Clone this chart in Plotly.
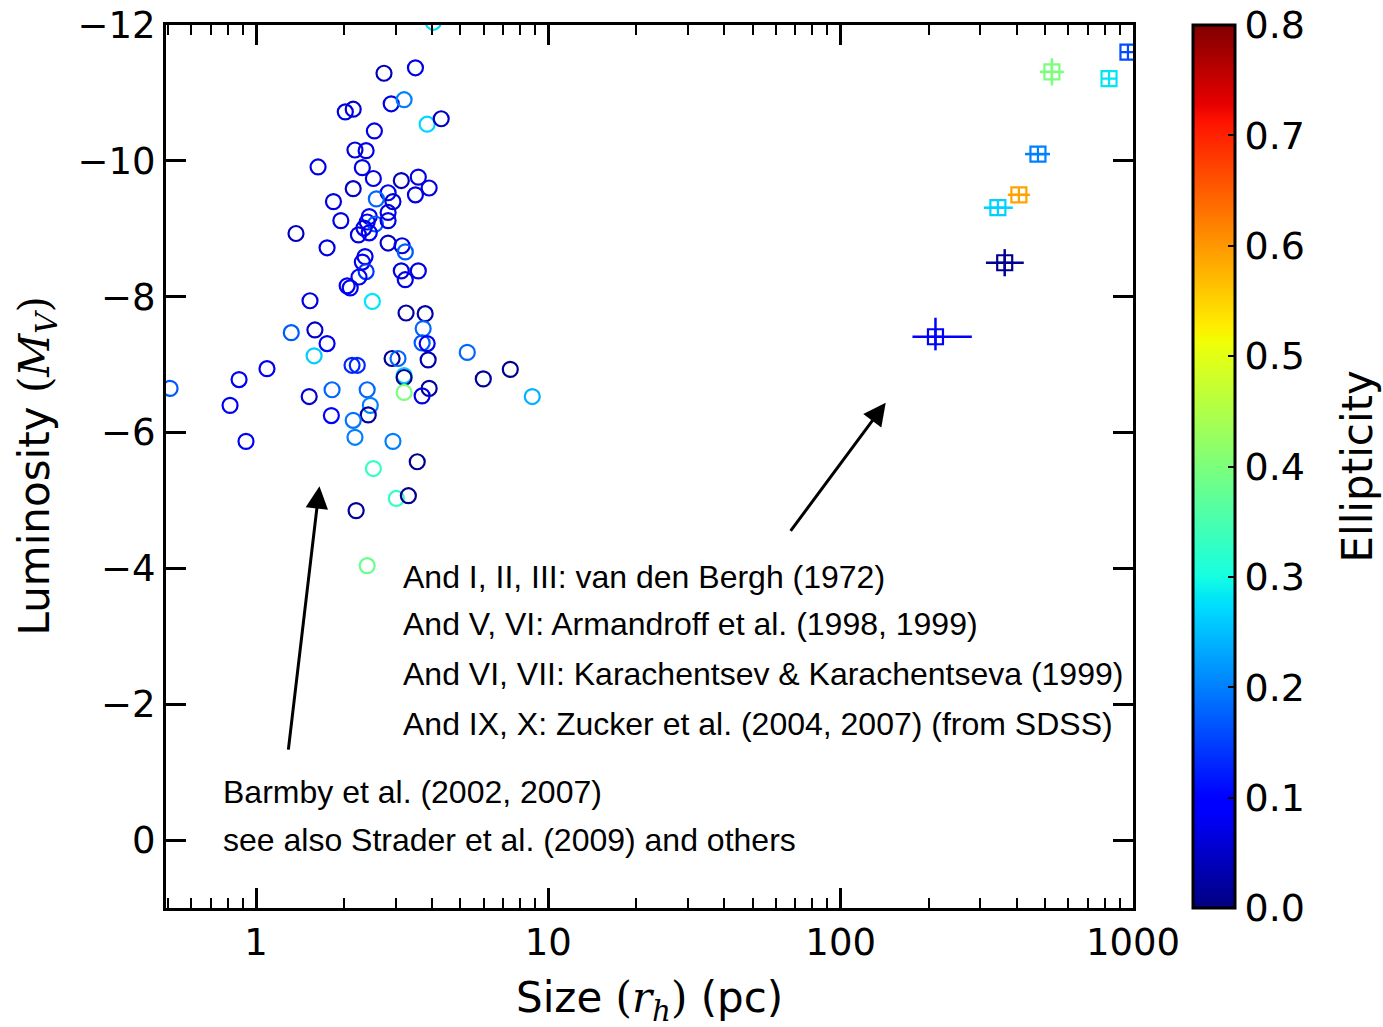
import numpy as np
import plotly.graph_objects as go

# ---------------- data ----------------
# Globular clusters (Barmby et al.)
gc_size = [2.74, 3.51, 2.90, 3.21, 2.02, 2.15, 3.85, 4.30, 2.54, 2.18,
           2.38, 1.63, 2.31, 2.52, 3.14, 3.59, 2.15, 3.91, 3.51, 2.83,
           2.58, 2.94, 1.84, 2.83, 2.44, 1.95, 2.40, 2.56, 2.83, 2.34,
           2.44, 2.24, 1.37, 2.83, 3.16, 3.24, 1.75, 2.36, 2.31, 2.38,
           2.25, 3.14, 3.59, 3.24, 2.05, 2.10, 1.53, 2.50, 4.04, 3.26,
           3.79, 3.73, 3.70, 3.85, 3.88, 5.28, 5.99, 7.41, 8.81, 2.92,
           3.06, 3.21, 3.21, 3.21, 3.91, 3.70, 2.40, 2.46, 2.42, 2.15,
           2.18, 2.94, 1.82, 1.52, 1.81, 1.58, 1.75, 1.59, 1.32, 1.09,
           0.875, 0.815, 0.924, 0.508, 2.13, 2.22, 2.52, 3.56, 3.02, 3.32,
           2.20, 2.40]
gc_mv = [-11.29, -11.37, -10.84, -10.90, -10.72, -10.76, -10.54, -10.62, -10.44, -10.16,
         -10.15, -9.91, -9.90, -9.74, -9.71, -9.76, -9.59, -9.60, -9.50, -9.53,
         -9.44, -9.40, -9.40, -9.24, -9.18, -9.12, -9.10, -9.07, -9.12, -9.01,
         -8.94, -8.91, -8.93, -8.79, -8.75, -8.66, -8.72, -8.59, -8.51, -8.37,
         -8.29, -8.38, -8.38, -8.25, -8.16, -8.13, -7.94, -7.93, -12.04, -7.76,
         -7.75, -7.53, -7.32, -7.31, -7.07, -7.18, -6.79, -6.93, -6.53, -7.09,
         -7.09, -6.84, -6.81, -6.59, -6.65, -6.54, -6.63, -6.40, -6.26, -6.18,
         -5.93, -5.87, -6.63, -6.53, -6.25, -7.13, -7.31, -7.51, -7.47, -6.94,
         -6.78, -6.40, -5.87, -6.65, -6.99, -6.99, -5.47, -5.57, -5.03, -5.07,
         -4.85, -4.04]
gc_ell = [0.04, 0.07, 0.07, 0.20, 0.07, 0.06, 0.27, 0.05, 0.07, 0.06,
          0.07, 0.07, 0.07, 0.07, 0.04, 0.07, 0.05, 0.07, 0.07, 0.08,
          0.18, 0.06, 0.07, 0.07, 0.08, 0.07, 0.08, 0.17, 0.07, 0.07,
          0.10, 0.07, 0.04, 0.05, 0.07, 0.17, 0.07, 0.08, 0.08, 0.14,
          0.08, 0.07, 0.07, 0.07, 0.08, 0.08, 0.07, 0.28, 0.27, 0.03,
          0.03, 0.18, 0.17, 0.08, 0.03, 0.18, 0.02, 0.01, 0.24, 0.02,
          0.18, 0.26, 0.01, 0.40, 0.02, 0.07, 0.18, 0.20, 0.02, 0.19,
          0.20, 0.20, 0.18, 0.06, 0.10, 0.26, 0.08, 0.05, 0.17, 0.08,
          0.08, 0.08, 0.08, 0.17, 0.13, 0.13, 0.33, 0.01, 0.33, 0.01,
          0.02, 0.38]

# Dwarf galaxies
dw_size = [211, 364, 345, 407, 473, 528, 828, 961]
dw_mv = [-7.41, -8.50, -9.31, -9.50, -10.10, -11.31, -11.21, -11.60]
dw_ell = [0.10, 0.01, 0.265, 0.59, 0.20, 0.40, 0.28, 0.16]
dw_size_err_minus = [35, 50, 36, 34, 46, 48, 0, 0]
dw_size_err_plus = [70, 59, 43, 37, 47, 52, 0, 0]
dw_mv_err_minus = [0.28, 0.20, 0.0, 0.0, 0.0, 0.20, 0.0, 0.0]
dw_mv_err_plus = [0.20, 0.20, 0.0, 0.0, 0.0, 0.20, 0.0, 0.0]

y_tickvals = [-12, -10, -8, -6, -4, -2, 0]
y_ticktext = ["\u221212", "\u221210", "\u22128", "\u22126", "\u22124", "\u22122", "0"]
x_tickvals = [1, 10, 100, 1000]
x_ticktext = ["1", "10", "100", "1000"]
cb_tickvals = [0.0, 0.1, 0.2, 0.3, 0.4, 0.5, 0.6, 0.7, 0.8]
cb_ticktext = ["0.0", "0.1", "0.2", "0.3", "0.4", "0.5", "0.6", "0.7", "0.8"]

ref_lines = ["And I, II, III: van den Bergh (1972)",
             "And V, VI: Armandroff et al. (1998, 1999)",
             "And VI, VII: Karachentsev & Karachentseva (1999)",
             "And IX, X: Zucker et al. (2004, 2007) (from SDSS)"]
gc_lines = ["Barmby et al. (2002, 2007)",
            "see also Strader et al. (2009) and others"]

CMIN, CMAX = 0.0, 0.8

# ---------------- matplotlib 'jet' colormap ----------------
def jet(v):
    r = np.interp(v, [0, 0.35, 0.66, 0.89, 1], [0, 0, 1, 1, 0.5])
    g = np.interp(v, [0, 0.125, 0.375, 0.64, 0.91, 1], [0, 0, 1, 1, 0, 0])
    b = np.interp(v, [0, 0.11, 0.34, 0.65, 1], [0.5, 1, 1, 0, 0])
    return "rgb(%d,%d,%d)" % (round(r * 255), round(g * 255), round(b * 255))

stops = [0, 0.11, 0.125, 0.34, 0.35, 0.375, 0.64, 0.65, 0.66, 0.89, 0.91, 1]
jet_scale = [[s, jet(s)] for s in stops]

fig = go.Figure()

fig.add_trace(go.Scatter(
    x=gc_size, y=gc_mv, mode="markers", showlegend=False,
    marker=dict(symbol="circle-open", size=15, color=gc_ell,
                colorscale=jet_scale, cmin=CMIN, cmax=CMAX,
                line=dict(width=2.2),
                colorbar=dict(
                    x=(1193 - 166) / 967, xanchor="left", xpad=0, ypad=0,
                    y=0.5, yanchor="middle", len=1, lenmode="fraction",
                    thickness=42, thicknessmode="pixels",
                    outlinewidth=3, outlinecolor="black",
                    tickvals=cb_tickvals, ticktext=cb_ticktext,
                    ticks="inside", ticklen=8, tickwidth=1.5, tickcolor="black",
                    tickfont=dict(family="DejaVu Sans", size=38, color="black"),
                ))))

for i in range(len(dw_size)):
    c = jet((dw_ell[i] - CMIN) / (CMAX - CMIN))
    fig.add_trace(go.Scatter(
        x=[dw_size[i]], y=[dw_mv[i]], mode="markers", showlegend=False,
        marker=dict(symbol="square-cross-open", size=15, color=c,
                    line=dict(width=2.2, color=c)),
        error_x=dict(type="data", symmetric=False, array=[dw_size_err_plus[i]],
                     arrayminus=[dw_size_err_minus[i]], color=c, thickness=2.5, width=0,
                     visible=dw_size_err_plus[i] > 0),
        error_y=dict(type="data", symmetric=False, array=[dw_mv_err_plus[i]],
                     arrayminus=[dw_mv_err_minus[i]], color=c, thickness=2.5, width=0,
                     visible=dw_mv_err_plus[i] > 0),
    ))

tickfont = dict(family="DejaVu Sans", size=37, color="black")
minor_vals = [m * 10 ** e for e in range(-1, 3) for m in range(2, 10) if m * 10 ** e > 0.49]

fig.update_xaxes(type="log", range=[-0.308, 3.0], tickvals=x_tickvals, ticktext=x_ticktext,
                 ticks="inside", ticklen=20, tickwidth=3, tickcolor="black",
                 showline=True, linewidth=3, linecolor="black", mirror="ticks",
                 showgrid=False, zeroline=False, tickfont=tickfont,
                 minor=dict(tickvals=minor_vals, ticks="inside", ticklen=10,
                            tickwidth=2, tickcolor="black", showgrid=False))
fig.update_yaxes(range=[1, -12], tickvals=y_tickvals, ticktext=y_ticktext,
                 ticks="inside", ticklen=20, tickwidth=3, tickcolor="black",
                 showline=True, linewidth=3, linecolor="black", mirror="ticks",
                 showgrid=False, zeroline=False, tickfont=tickfont)

annos = []
txtfont = dict(family="Liberation Sans, Arial", size=32, color="black")
for t, yy in zip(ref_lines, [-3.87, -3.18, -2.44, -1.71]):
    annos.append(dict(x=0.4966, y=yy, xref="x", yref="y", text=t, showarrow=False,
                      xanchor="left", yanchor="middle", font=txtfont))
for t, yy in zip(gc_lines, [-0.71, 0.0]):
    annos.append(dict(x=-0.120, y=yy, xref="x", yref="y", text=t, showarrow=False,
                      xanchor="left", yanchor="middle", font=txtfont))
# arrows
annos.append(dict(x=0.217, y=-5.21, ax=0.110, ay=-1.31, xref="x", yref="y",
                  axref="x", ayref="y", text="", showarrow=True, arrowhead=2,
                  arrowsize=1.5, arrowwidth=3, arrowcolor="black"))
annos.append(dict(x=2.154, y=-6.44, ax=1.825, ay=-4.53, xref="x", yref="y",
                  axref="x", ayref="y", text="", showarrow=True, arrowhead=2,
                  arrowsize=1.5, arrowwidth=3, arrowcolor="black"))
# axis titles
titlefont = dict(family="DejaVu Sans", size=42, color="black")
annos.append(dict(x=0.5, y=(908 - 1000) / 883, xref="paper", yref="paper",
                  text='Size <span style="font-family:DejaVu Serif">(<i>r</i><sub><i>h</i></sub>)</span> (pc)',
                  showarrow=False, xanchor="center", yanchor="middle", font=titlefont))
annos.append(dict(x=(37 - 166) / 967, y=0.5, xref="paper", yref="paper", textangle=-90,
                  text='Luminosity <span style="font-family:DejaVu Serif">(<i>M</i><sub><i>V</i></sub>)</span>',
                  showarrow=False, xanchor="center", yanchor="middle", font=titlefont))
annos.append(dict(x=(1357 - 166) / 967, y=0.5, xref="paper", yref="paper", textangle=-90,
                  text="Ellipticity", showarrow=False, xanchor="center", yanchor="middle",
                  font=titlefont))

fig.update_layout(width=1383, height=1027,
                  margin=dict(l=166, r=250, t=25, b=119, autoexpand=False),
                  plot_bgcolor="white", paper_bgcolor="white", annotations=annos,
                  showlegend=False)

fig.write_html("out.html")
